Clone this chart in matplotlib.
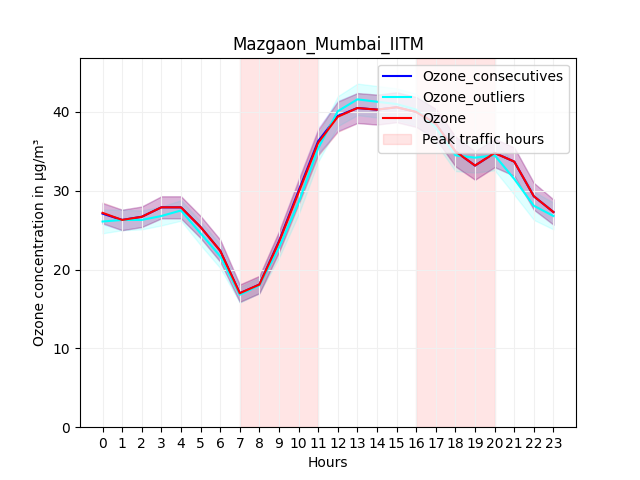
import matplotlib
matplotlib.use('Agg')
import matplotlib.pyplot as plt
import numpy as np

hours = np.arange(24)
ozone = [27.2, 26.3, 26.7, 27.9, 27.9, 25.4, 22.4, 17.0, 18.1, 23.5, 29.8, 36.1,
         39.4, 40.5, 40.3, 40.6, 40.0, 38.5, 35.0, 33.2, 34.8, 33.7, 29.3, 27.3]
consec = [27.1, 26.3, 26.7, 27.9, 27.9, 25.4, 22.4, 17.0, 18.1, 23.6, 30.0, 36.3,
          39.5, 40.5, 40.3, 40.6, 40.0, 38.5, 35.0, 33.2, 34.8, 33.7, 29.3, 27.3]
outliers = [26.1, 26.3, 26.3, 26.8, 27.5, 24.6, 21.7, 16.8, 18.0, 22.8, 28.5, 35.4,
            40.1, 41.6, 41.3, 41.0, 40.3, 38.0, 34.5, 34.2, 34.5, 31.5, 28.1, 26.8]
ozone_err = [1.3, 1.3, 1.3, 1.4, 1.4, 1.4, 1.4, 1.1, 1.1, 1.3, 1.5, 1.6,
             1.9, 1.9, 1.9, 1.9, 1.9, 1.9, 1.9, 1.8, 1.8, 1.8, 1.7, 1.6]
outl_err = [1.5, 1.3, 1.2, 1.2, 1.3, 1.5, 1.5, 1.0, 1.0, 1.3, 1.5, 1.7,
            1.9, 2.0, 2.0, 2.0, 2.0, 2.0, 2.0, 1.9, 1.9, 2.0, 1.8, 1.7]

fig, ax = plt.subplots(figsize=(6.4, 4.8), dpi=100)
ax.axvspan(7, 11, color='red', alpha=0.1, label='Peak traffic hours')
ax.axvspan(16, 20, color='red', alpha=0.1)

series = [(consec, ozone_err, 'blue', 'Ozone_consecutives'),
          (outliers, outl_err, 'cyan', 'Ozone_outliers'),
          (ozone, ozone_err, 'red', 'Ozone')]
for vals, err, col, lab in series:
    v = np.array(vals)
    e = np.array(err)
    ax.plot(hours, v, color=col, label=lab)
    ax.fill_between(hours, v - e, v + e, color=col, alpha=0.12)
# purplish overlap as in the reference
ax.fill_between(hours, np.array(ozone) - np.array(ozone_err),
                np.array(ozone) + np.array(ozone_err), color='purple', alpha=0.08)

h, l = ax.get_legend_handles_labels()
order = [1, 2, 3, 0]
ax.legend([h[i] for i in order], [l[i] for i in order], loc='upper right')
ax.set_xticks(hours)
ax.set_ylim(0, 46.9)
ax.set_xlim(-1.15, 24.15)
ax.grid(True, color='#f0f0f0', linewidth=0.8)
ax.set_title('Mazgaon_Mumbai_IITM')
ax.set_xlabel('Hours')
ax.set_ylabel('Ozone concentration in µg/m³')
fig.savefig('out.png')
